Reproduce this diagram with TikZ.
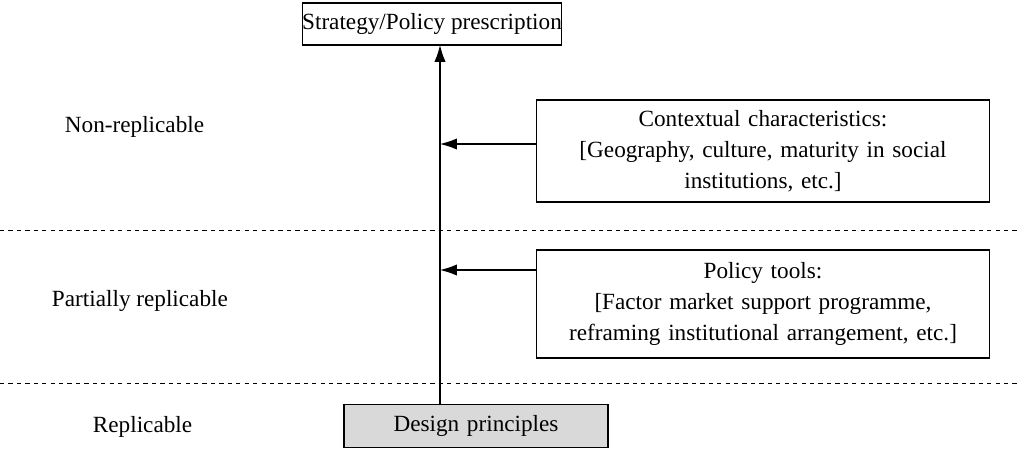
\documentclass[tikz,border=0pt]{standalone}
\usepackage{fontspec}
\setmainfont{Liberation Serif}
\usetikzlibrary{arrows.meta}
\begin{document}
\begin{tikzpicture}[x=0.025cm,y=-0.025cm,
    box/.style={draw,thick,align=center,inner sep=0pt},
    lbl/.style={anchor=west,align=left},
    arr/.style={thick,-{Latex[length=12pt,width=8pt]}},
    every node/.style={font=\fontsize{16.5}{22}\selectfont}]
    \useasboundingbox (0,0) rectangle (1020,475);
    % zones
    \draw[dashed] (0,230) -- (1020,230);
    \draw[dashed] (0,383) -- (1020,383);
    \node[lbl] (nonrep) at (60,127) {Non-replicable};
    \node[lbl] (partrep) at (47,301) {Partially replicable};
    \node[lbl] (rep) at (88,427) {Replicable};
    % boxes
    \node[box,minimum width=190*0.025cm,minimum height=42*0.025cm] (strategy) at (432,24) {Strategy/Policy prescription};
    \node[box,fill=gray!30,text width=264*0.025cm,minimum height=43*0.025cm] (design) at (476,426) {Design principles};
    \node[box,text width=453*0.025cm,minimum height=102*0.025cm] (context) at (763,151)
        {Contextual characteristics:\\{}[Geography, culture, maturity in social\\institutions, etc.]};
    \node[box,text width=453*0.025cm,minimum height=108*0.025cm] (tools) at (763,304)
        {Policy tools:\\{}[Factor market support programme,\\reframing institutional arrangement, etc.]};
    % arrows
    \coordinate (base) at (440,405);
    \coordinate (top) at (440,45);
    \draw[arr] (base) -- (top);
    \coordinate (c1) at (440,144);
    \coordinate (c2) at (440,270);
    \draw[arr] (context.west |- c1) -- (c1);
    \draw[arr] (tools.west |- c2) -- (c2);
\end{tikzpicture}
\end{document}
